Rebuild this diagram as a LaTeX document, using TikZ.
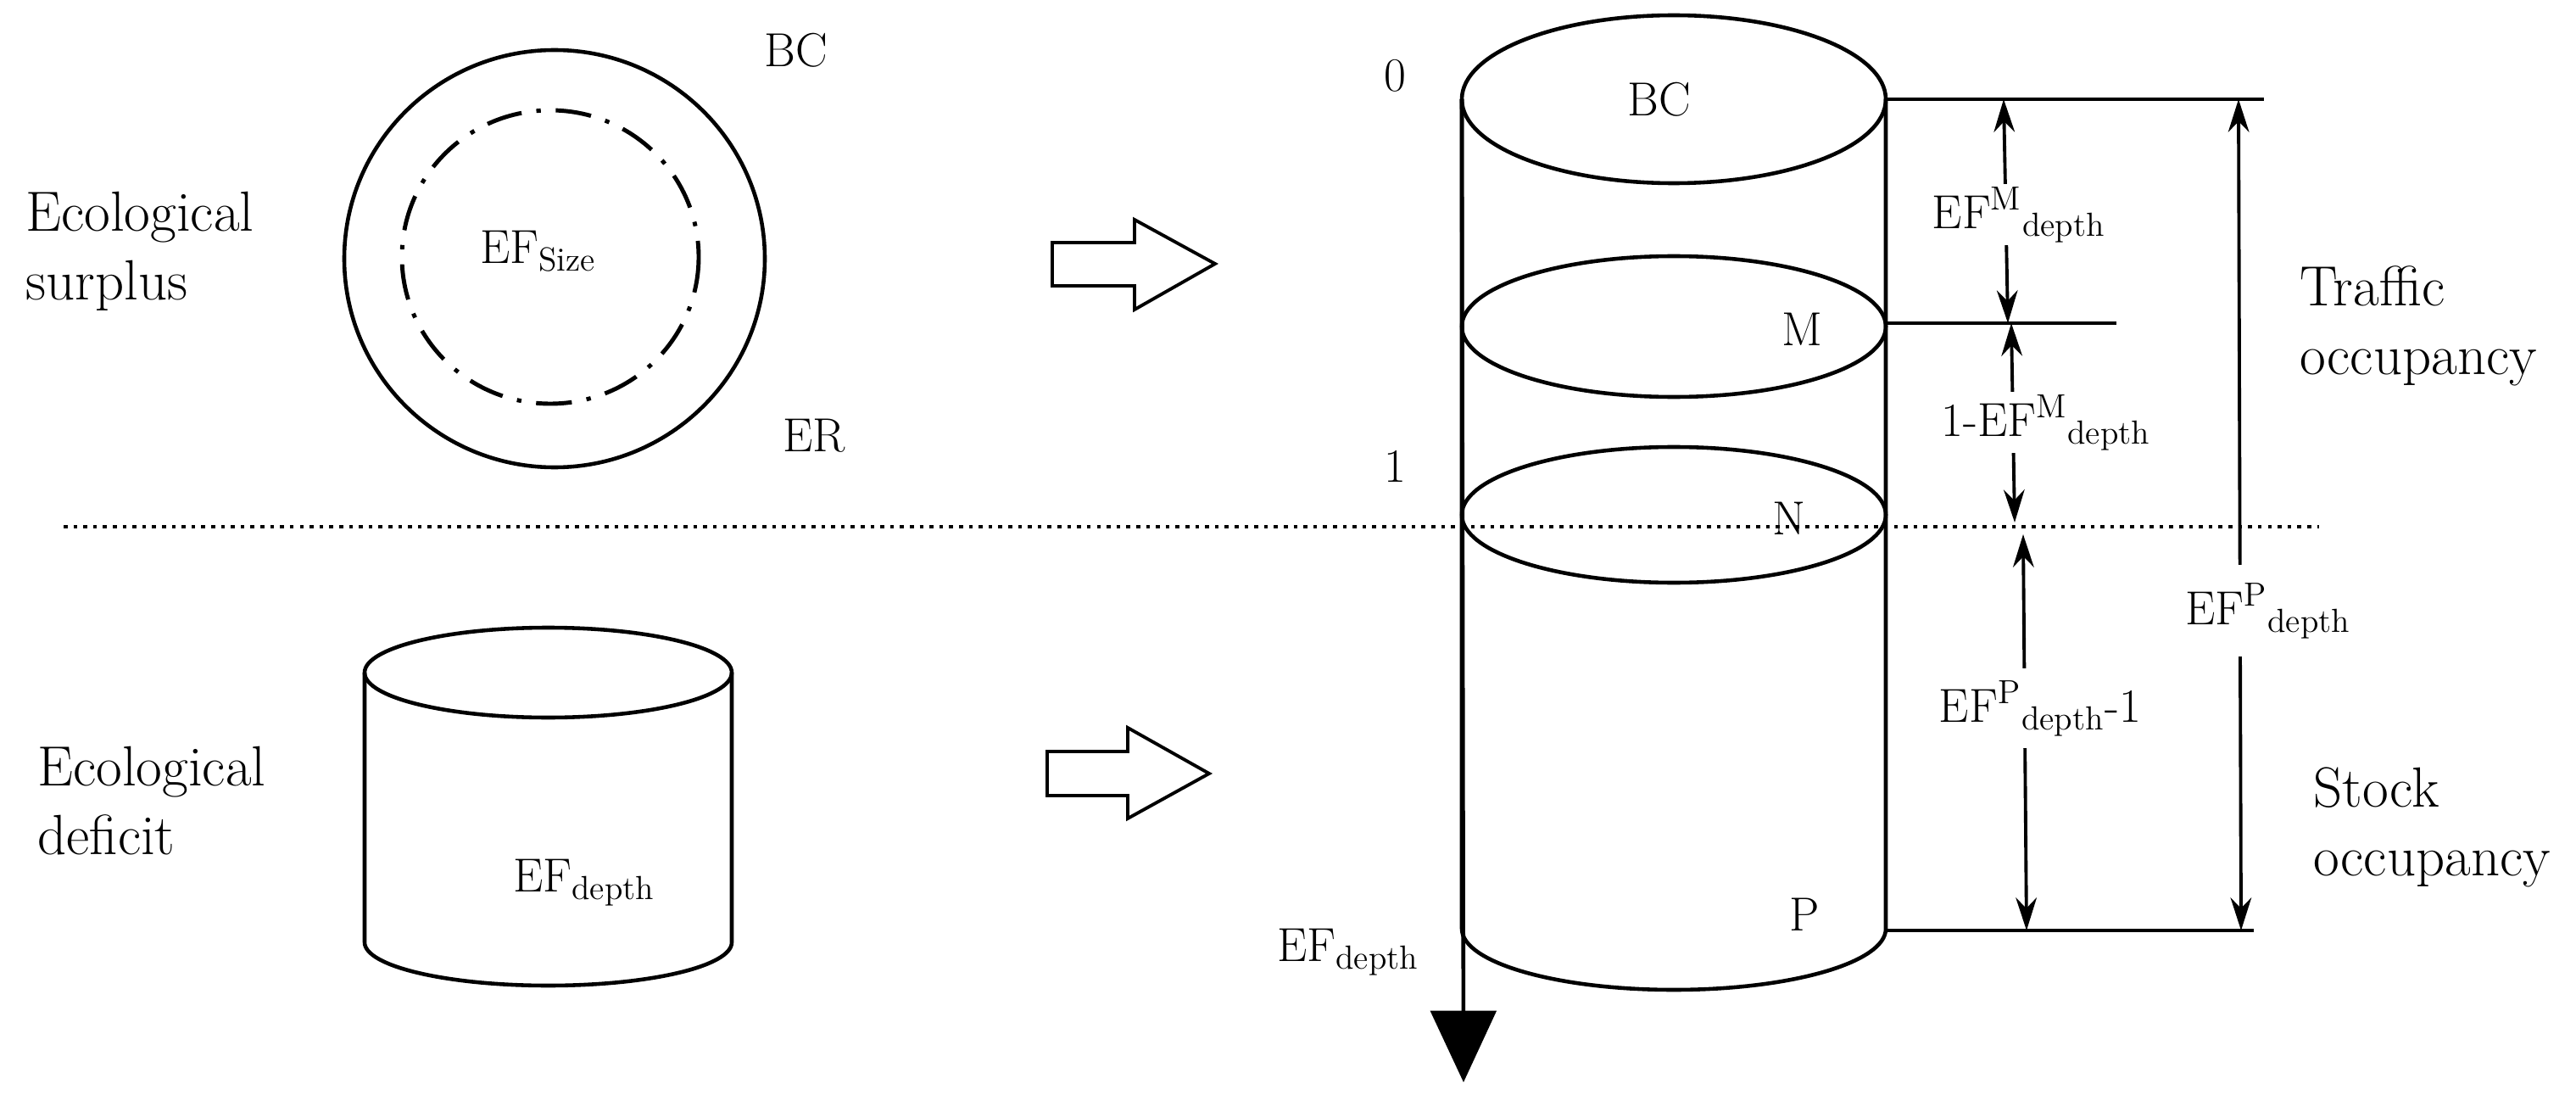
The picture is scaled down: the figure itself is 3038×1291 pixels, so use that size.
\documentclass[tikz,border=0pt]{standalone}
\usetikzlibrary{arrows.meta}
\begin{document}
\begin{tikzpicture}[x=0.01cm,y=-0.01cm,
  shp/.style={line width=1.3pt},
  big/.style={font=\rmfamily\fontsize{19}{23}\selectfont,align=left,anchor=west},
  lab/.style={font=\rmfamily\fontsize{16}{19}\selectfont,inner sep=1pt},
  dim/.style={line width=1.1pt,{Stealth[length=11pt,width=7pt]}-{Stealth[length=11pt,width=7pt]}},
  hollow/.style={line width=1.1pt}]
\useasboundingbox (0,0) rectangle (3038,1291);
% left
\draw[shp] (654,305) ellipse [x radius=248,y radius=246];
\draw[line width=1.4pt,dash pattern=on 12pt off 5pt on 1.5pt off 5pt] (649,303) ellipse [x radius=175,y radius=173];
\node[lab] (bc1) at (939,59) {BC};
\node[lab] (er) at (960,514) {ER};
\node[lab] (efs) at (635,296) {EF\textsubscript{Size}};
\node[big] (sur) at (18,296) {Ecological\\surplus};
\node[big] (def) at (32,944) {Ecological\\deficit};
% dotted line
\draw[line width=1.3pt,dotted] (75,621) -- (2735,621);
% hollow arrows
\draw[hollow] (1241,286) -- (1338,286) -- (1338,259) -- (1433,311) -- (1338,365) -- (1338,337) -- (1241,337) -- cycle;
\draw[hollow] (1235,886) -- (1330,886) -- (1330,858) -- (1426,912) -- (1330,965) -- (1330,938) -- (1235,938) -- cycle;
% left cylinder
\draw[shp] (430,793) -- (430,1111) arc[start angle=180,end angle=0,x radius=216.5,y radius=51] -- (863,793);
\draw[shp] (646.5,793) ellipse [x radius=216.5,y radius=53];
\node[lab] (efd1) at (689,1041) {EF\textsubscript{depth}};
% right cylinder
\draw[shp] (1724,117) -- (1724,1095) arc[start angle=180,end angle=0,x radius=250,y radius=72] -- (2224,117);
\draw[shp] (1974,117) ellipse [x radius=250,y radius=99];
\draw[shp] (1974,385) ellipse [x radius=250,y radius=83];
\draw[shp] (1974,607) ellipse [x radius=250,y radius=80];
\coordinate (ax0) at (1724,117);
\coordinate (ax1) at (1726,1276);
\draw[line width=1.3pt,-{Triangle[length=24pt,width=22pt]}] (ax0) -- (ax1);
\node[lab] (z) at (1645,89) {0};
\node[lab] (o) at (1645,550) {1};
\node[lab] (bc2) at (1957,117) {BC};
\node[lab] (m) at (2125,388) {M};
\node[lab] (n) at (2110,611) {N};
\node[lab] (p) at (2128,1078) {P};
\node[lab] (efd2) at (1590,1123) {EF\textsubscript{depth}};
% extension lines
\coordinate (t0) at (2224,117); \coordinate (t1) at (2670,117);
\coordinate (m0) at (2224,381); \coordinate (m1) at (2496,381);
\coordinate (b0) at (2224,1097); \coordinate (b1) at (2658,1097);
\draw[line width=1.2pt] (t0) -- (t1);
\draw[line width=1.2pt] (m0) -- (m1);
\draw[line width=1.2pt] (b0) -- (b1);
% dimension arrows
\coordinate (a1) at (2363,117); \coordinate (a2) at (2368,381);
\coordinate (a3) at (2372,381); \coordinate (a4) at (2376,616);
\coordinate (a5) at (2386,630); \coordinate (a6) at (2390,1097);
\coordinate (a7) at (2640,117); \coordinate (a8) at (2643,1097);
\draw[dim] (a1) -- (a2);
\draw[dim] (a3) -- (a4);
\draw[dim] (a5) -- (a6);
\draw[dim] (a7) -- (a8);
\node[lab,fill=white] (l1) at (2381,253) {EF\textsuperscript{M}\textsubscript{depth}};
\node[lab,fill=white] (l2) at (2413,498) {1-EF\textsuperscript{M}\textsubscript{depth}};
\node[lab,fill=white,inner ysep=4pt] (l3) at (2406,835) {EF\textsuperscript{P}\textsubscript{depth}-1};
\node[lab,fill=white,inner ysep=6pt] (l4) at (2675,720) {EF\textsuperscript{P}\textsubscript{depth}};
\node[big] (tr) at (2700,384) {Traffic\\occupancy};
\node[big] (st) at (2716,975) {Stock\\occupancy};
\end{tikzpicture}
\end{document}
